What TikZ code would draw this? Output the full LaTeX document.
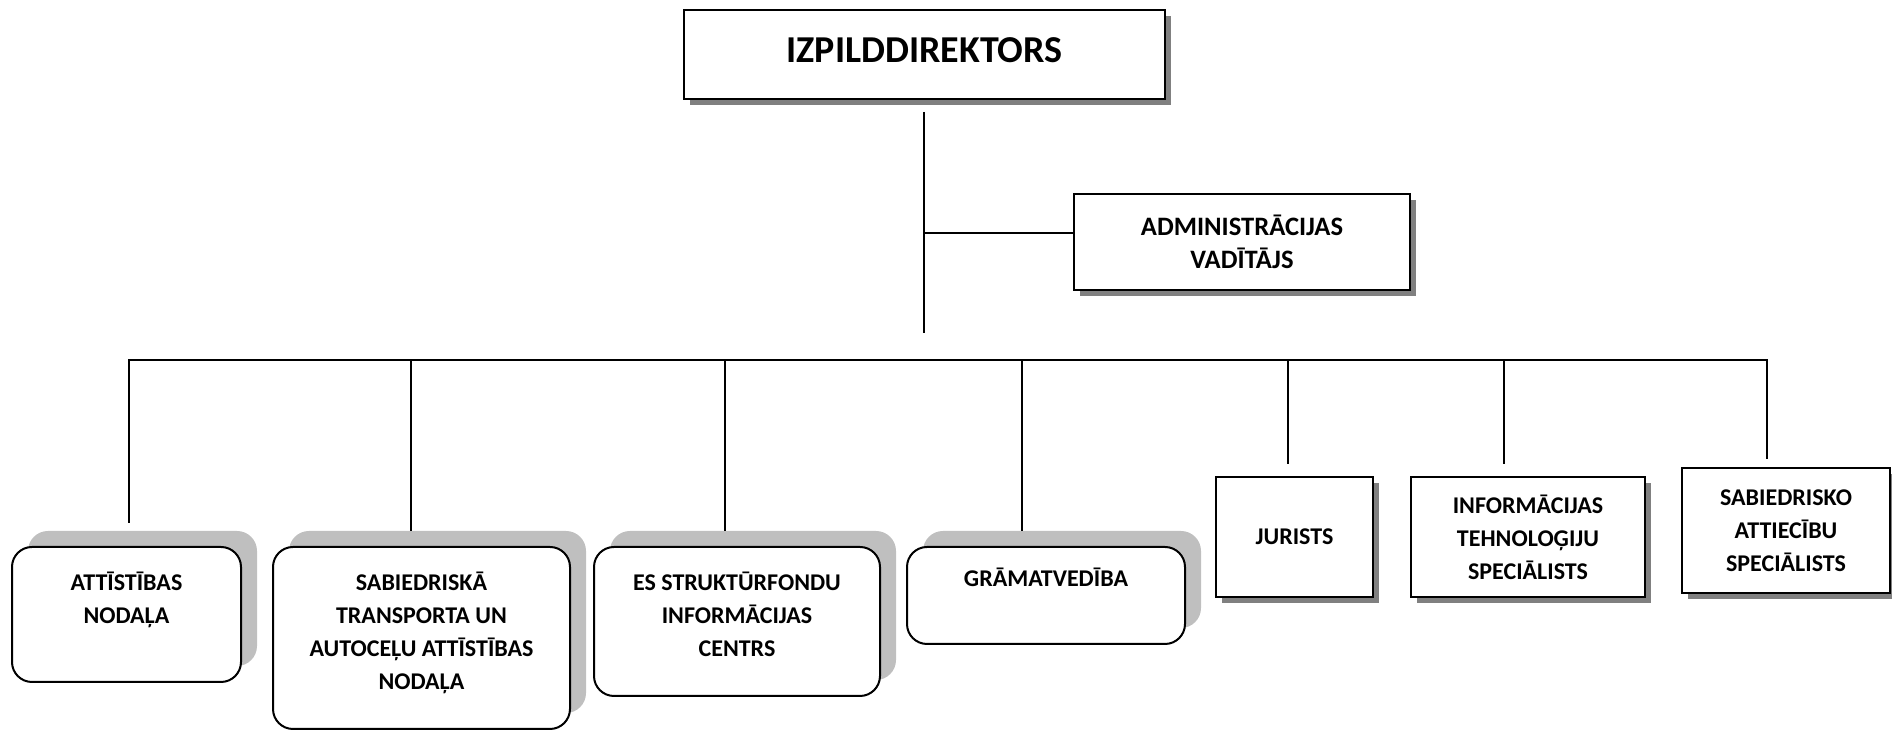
\documentclass[tikz,border=0pt]{standalone}
\usepackage{fontspec}
\setmainfont{Carlito}
\usetikzlibrary{shadows,positioning}

\tikzset{
  link/.style={line width=1pt},
  head/.style={draw, line width=1.2pt, fill=white, inner sep=0pt,
    font=\bfseries\fontsize{19}{23}\selectfont,
    drop shadow={shadow xshift=3pt, shadow yshift=-3pt, fill=black!50, opacity=1}},
  post/.style={draw, line width=1.2pt, fill=white, inner sep=0pt, align=center,
    font=\bfseries\fontsize{12}{16.5}\selectfont,
    drop shadow={shadow xshift=3pt, shadow yshift=-3pt, fill=black!50, opacity=1}},
  unit/.style={draw, line width=1pt, rounded corners=10pt, fill=white, inner sep=0pt,
    drop shadow={shadow xshift=8pt, shadow yshift=8pt, fill=black!25, opacity=1}},
  unittext/.style={anchor=north, inner sep=0pt, align=center,
    font=\bfseries\fontsize{12}{16.5}\selectfont}
}

\begin{document}
\begin{tikzpicture}[x=0.5pt,y=0.5pt]
\useasboundingbox (0,0) rectangle (1892,731);

\node[head, minimum width=240.5pt, minimum height=44.5pt] (izp) at (924.5,676.5) {\raisebox{4.5pt}{IZPILDDIREKTORS}};
\node[post, minimum width=168pt, minimum height=48pt, font=\bfseries\fontsize{13.3}{16.5}\selectfont] (adm) at (1242,489) {ADMINISTRĀCIJAS\\VADĪTĀJS};

\node[unit, minimum width=114.5pt, minimum height=67.5pt] (att) at (126.5,116.5) {};
\node[unit, minimum width=148.5pt, minimum height=91pt] (transp) at (421.5,93) {};
\node[unit, minimum width=143pt, minimum height=74.5pt] (esfond) at (737,109.5) {};
\node[unit, minimum width=139pt, minimum height=48.5pt] (gram) at (1046,135.5) {};

\node[unittext] (att-t) at ([yshift=-13pt]att.north) {ATTĪSTĪBAS\\NODAĻA};
\node[unittext] (transp-t) at ([yshift=-13pt]transp.north) {SABIEDRISKĀ\\TRANSPORTA UN\\AUTOCEĻU ATTĪSTĪBAS\\NODAĻA};
\node[unittext] (esfond-t) at ([yshift=-13pt]esfond.north) {ES STRUKTŪRFONDU\\INFORMĀCIJAS\\CENTRS};
\node[unittext] (gram-t) at ([yshift=-11pt]gram.north) {GRĀMATVEDĪBA};

\node[post, minimum width=78.5pt, minimum height=60pt] (jur) at (1294.5,194) {JURISTS};
\node[post, minimum width=117pt, minimum height=60pt] (itsp) at (1528,194) {INFORMĀCIJAS\\TEHNOLOĢIJU\\SPECIĀLISTS};
\node[post, minimum width=104pt, minimum height=62.5pt] (sab) at (1786,200.5) {SABIEDRISKO\\ATTIECĪBU\\SPECIĀLISTS};

\coordinate (tr1) at (924,619);
\coordinate (tr2) at (924,398);
\coordinate (tradm) at (924,498);
\coordinate (bus) at (0,371);
\foreach \n/\x/\y in {1/129/208, 2/411/200, 3/725/200, 4/1022/200, 5/1288/267, 6/1504/267, 7/1767/272}
  \coordinate (d\n) at (\x,\y);

\draw[link] (tr1) -- (tr2);
\draw[link] (tradm) -- (tradm -| adm.west);
\draw[link] (d1) -- (d1 |- bus) -- (d7 |- bus) -- (d7);
\foreach \n in {2,...,6}
  \draw[link] (d\n) -- (d\n |- bus);

\end{tikzpicture}
\end{document}
